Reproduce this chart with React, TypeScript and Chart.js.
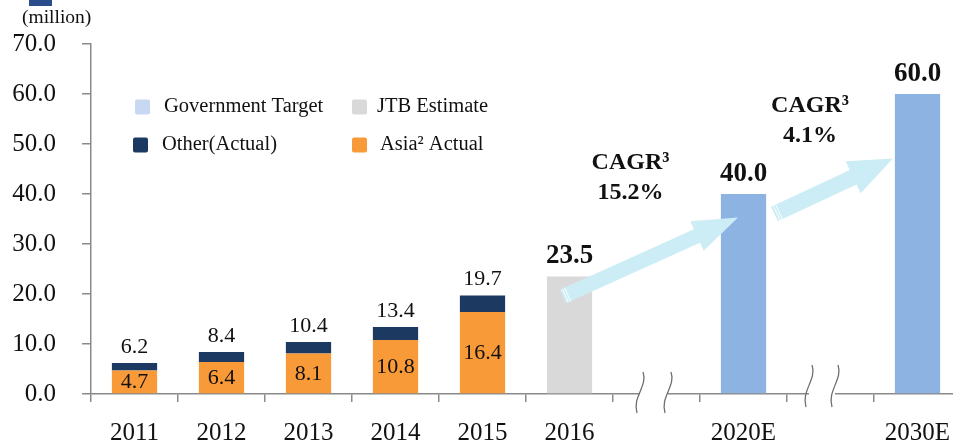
import React, { useEffect, useRef } from 'react';
import { Chart, registerables } from 'chart.js';

Chart.register(...registerables);

// ---- data ----
const categories = ['2011', '2012', '2013', '2014', '2015', '2016', '', '2020E', '', '2030E'];
const asiaActual = [4.7, 6.4, 8.1, 10.8, 16.4, null, null, null, null, null];
const otherActual = [1.5, 2.0, 2.3, 2.6, 3.3, null, null, null, null, null];
const jtbEstimate = [null, null, null, null, null, 23.5, null, null, null, null];
const governmentTarget = [null, null, null, null, null, null, null, 40.0, null, 60.0];
const yTickValues = [0, 10, 20, 30, 40, 50, 60, 70];
const cagrTexts = [['CAGR³', '15.2%'], ['CAGR³', '4.1%']];
const breakCategoryIndexes = [6, 8];

// ---- styles ----
const FONT = '"Liberation Serif", "Times New Roman", serif';
const ASIA = '#F99A38';
const OTHER = '#1C3961';
const JTB = '#D9D9D9';
const GOV = '#8DB3E2';
const GOV_LEGEND = '#C6D9F1';
const ARROW = '#CDEDF6';
const AXIS = '#8A8A8A';

function drawArrow(ctx: CanvasRenderingContext2D, x1: number, y1: number, x2: number, y2: number, sw: number, hw: number, hl: number) {
  const dx = x2 - x1, dy = y2 - y1;
  const len = Math.hypot(dx, dy);
  const ux = dx / len, uy = dy / len;
  const nx = -uy, ny = ux;
  const bx = x2 - ux * hl, by = y2 - uy * hl;
  ctx.beginPath();
  ctx.moveTo(x1 + nx * sw, y1 + ny * sw);
  ctx.lineTo(bx + nx * sw, by + ny * sw);
  ctx.lineTo(bx + nx * hw, by + ny * hw);
  ctx.lineTo(x2, y2);
  ctx.lineTo(bx - nx * hw, by - ny * hw);
  ctx.lineTo(bx - nx * sw, by - ny * sw);
  ctx.lineTo(x1 - nx * sw, y1 - ny * sw);
  ctx.closePath();
  ctx.fillStyle = ARROW;
  ctx.fill();
  ctx.strokeStyle = '#ffffff';
  ctx.lineWidth = 1;
  for (const k of [2.5, 5]) {
    const sx = x1 + ux * k, sy = y1 + uy * k;
    ctx.beginPath();
    ctx.moveTo(sx + nx * sw, sy + ny * sw);
    ctx.lineTo(sx - nx * sw, sy - ny * sw);
    ctx.stroke();
  }
}

const overlayPlugin = {
  id: 'overlay',
  afterDatasetsDraw(chart: any) {
    const ctx: CanvasRenderingContext2D = chart.ctx;
    const xs = chart.scales.x;
    const ys = chart.scales.y;
    ctx.save();

    drawArrow(ctx, xs.getPixelForValue(5) - 6.5, ys.getPixelForValue(19.5), xs.getPixelForValue(7) - 5.5, ys.getPixelForValue(35.3), 7.4, 16.3, 45);
    drawArrow(ctx, xs.getPixelForValue(7) + 31, ys.getPixelForValue(36.0), xs.getPixelForValue(9) - 24.5, ys.getPixelForValue(47.1), 8, 17.7, 44);

    ctx.fillStyle = '#111';
    ctx.textAlign = 'center';
    ctx.textBaseline = 'middle';

    ctx.font = `22px ${FONT}`;
    asiaActual.forEach((v, i) => {
      if (v == null) return;
      const px = xs.getPixelForValue(i);
      ctx.fillText(v.toFixed(1), px, (ys.getPixelForValue(0) + ys.getPixelForValue(v)) / 2);
    });
    asiaActual.forEach((v, i) => {
      if (v == null) return;
      const total = v + (otherActual[i] || 0);
      ctx.fillText(total.toFixed(1), xs.getPixelForValue(i), ys.getPixelForValue(total) - 16);
    });
    ctx.font = `bold 27px ${FONT}`;
    [jtbEstimate, governmentTarget].forEach((arr) => {
      arr.forEach((v, i) => {
        if (v == null) return;
        ctx.fillText(v.toFixed(1), xs.getPixelForValue(i), ys.getPixelForValue(v) - 20);
      });
    });
    ctx.font = `bold 24px ${FONT}`;
    const cagrPos = [
      [xs.getPixelForValue(6) - 26, ys.getPixelForValue(46.3), ys.getPixelForValue(40.3)],
      [xs.getPixelForValue(8) - 20.5, ys.getPixelForValue(57.7), ys.getPixelForValue(51.6)],
    ];
    cagrTexts.forEach((lines, k) => {
      const [cx, y1, y2] = cagrPos[k];
      ctx.fillText(lines[0], cx, y1);
      ctx.fillText(lines[1], cx, y2);
    });

    ctx.restore();
  },
  afterDraw(chart: any) {
    const ctx: CanvasRenderingContext2D = chart.ctx;
    const xs = chart.scales.x;
    const area = chart.chartArea;
    ctx.save();

    const breakShapes = [
      { a: -16.5, b: 11.5, top: 372, bot: 413 },
      { a: -21.5, b: 4.5, top: 365, bot: 407 },
    ];
    breakCategoryIndexes.forEach((ci, k) => {
      const c = xs.getPixelForValue(ci);
      const s = breakShapes[k];
      const xa = c + s.a, xb = c + s.b;
      ctx.fillStyle = '#ffffff';
      ctx.fillRect(xa, area.bottom - 3, xb - xa, 6);
      ctx.strokeStyle = '#6f6f6f';
      ctx.lineWidth = 1.3;
      for (const x of [xa, xb]) {
        ctx.beginPath();
        ctx.moveTo(x + 3, s.top);
        ctx.bezierCurveTo(x + 8, s.top + 14, x - 8, s.bot - 16, x - 3, s.bot);
        ctx.stroke();
      }
    });

    ctx.fillStyle = '#2B4C8A';
    ctx.fillRect(29, 0, 23, 6);
    ctx.fillStyle = '#111';
    ctx.font = `19.5px ${FONT}`;
    ctx.textAlign = 'left';
    ctx.textBaseline = 'middle';
    ctx.fillText('(million)', 22, 18);

    const items = [
      { label: 'Government Target', color: GOV_LEGEND, sx: 135, tx: 164, y: 107 },
      { label: 'JTB Estimate', color: JTB, sx: 352, tx: 377, y: 107 },
      { label: 'Other(Actual)', color: OTHER, sx: 133, tx: 162, y: 145 },
      { label: 'Asia² Actual', color: ASIA, sx: 352, tx: 380, y: 145 },
    ];
    ctx.font = `20.5px ${FONT}`;
    items.forEach((it) => {
      ctx.fillStyle = it.color;
      ctx.beginPath();
      (ctx as any).roundRect(it.sx, it.y - 7.5, 15, 15, 2);
      ctx.fill();
      ctx.fillStyle = '#111';
      ctx.fillText(it.label, it.tx, it.y);
    });

    ctx.restore();
  },
};

export default function App() {
  const ref = useRef<HTMLCanvasElement>(null);
  useEffect(() => {
    if (!ref.current) return;
    const common = { categoryPercentage: 1, barPercentage: 0.52, borderWidth: 0 };
    const chart = new Chart(ref.current, {
      type: 'bar',
      data: {
        labels: categories,
        datasets: [
          { label: 'Asia² Actual', data: asiaActual, backgroundColor: ASIA, ...common },
          { label: 'Other(Actual)', data: otherActual, backgroundColor: OTHER, ...common },
          { label: 'JTB Estimate', data: jtbEstimate, backgroundColor: JTB, ...common },
          { label: 'Government Target', data: governmentTarget, backgroundColor: GOV, ...common },
        ] as any,
      },
      options: {
        animation: false,
        responsive: false,
        devicePixelRatio: 1,
        layout: { padding: { top: 44, left: 0, right: 0, bottom: 0 } },
        plugins: { legend: { display: false }, tooltip: { enabled: false }, title: { display: false } },
        scales: {
          x: {
            stacked: true,
            offset: true,
            grid: { display: true, drawOnChartArea: false, drawTicks: true, tickLength: 8, color: AXIS, lineWidth: 1.5, offset: true },
            border: { display: true, color: AXIS, width: 1.5 },
            ticks: { color: '#111', font: { family: FONT, size: 25 }, padding: 16, maxRotation: 0, autoSkip: false },
            afterFit: (s: any) => { s.height = 52; s.paddingLeft = 0; s.paddingRight = 0; },
          },
          y: {
            stacked: true,
            min: 0,
            max: 70,
            afterBuildTicks: (s: any) => { s.ticks = yTickValues.map((v) => ({ value: v })); },
            grid: { display: true, drawOnChartArea: false, drawTicks: true, tickLength: 9, color: AXIS, lineWidth: 1.5 },
            border: { display: true, color: AXIS, width: 1.5 },
            ticks: { color: '#111', font: { family: FONT, size: 25 }, padding: 26, callback: (v: any) => Number(v).toFixed(1) },
            afterFit: (s: any) => { s.width = 91; },
          },
        },
      },
      plugins: [overlayPlugin],
    });
    return () => chart.destroy();
  }, []);
  return (
    <div style={{ position: 'fixed', left: 0, top: 0, width: 953, height: 446, overflow: 'hidden', background: '#fff' }}>
      <canvas ref={ref} width={961} height={446} style={{ display: 'block', width: 961, height: 446 }} />
    </div>
  );
}
